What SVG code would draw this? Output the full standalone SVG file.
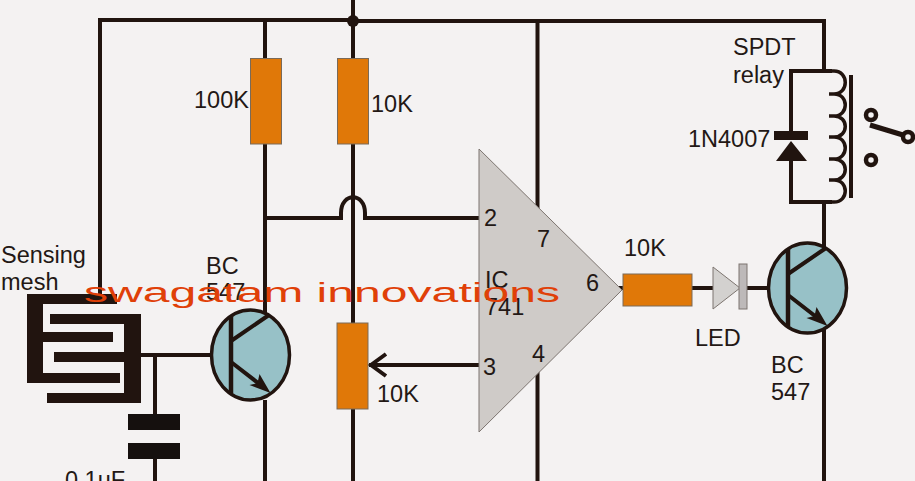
<svg xmlns="http://www.w3.org/2000/svg" width="915" height="481" viewBox="0 0 915 481">
<style>
.w{fill:none;stroke:#21140f;stroke-width:4}
.o{fill:#e07808;stroke:#7a6a58;stroke-width:1}
.q{fill:#97c1c7;stroke:#21140f;stroke-width:3.5}
.t{font-family:"Liberation Sans",Arial,sans-serif;font-size:23.500px;fill:#231815}
.k{fill:#21140f}
</style>
<defs>
<g id="bjt">
<ellipse class="q" cx="0" cy="0" rx="39" ry="45"/>
<path class="w" style="stroke-width:4.500" d="M-19.500-39V38"/>
<path class="w" d="M-19.500-14L18.500-40M-19.500 7L14 33"/>
<path class="k" d="M20 38L-1 30L7 28L9 19Z"/>
</g>
</defs>
<rect width="915" height="481" fill="#f4f2f2"/>
<g id="connectors">
<path class="w" d="M100 295V20H353"/>
<path class="w" d="M353 21H824V71"/>
<path class="w" d="M265 20V315M265 400V481"/>
<path class="w" d="M353 0V481"/>
<path class="w" d="M537.500 21V481"/>
<path class="w" d="M265 218H341V213C341 192 365 192 365 213V218H479"/>
<path class="w" d="M369 365H479M386 354L371 365L386 376"/>
<path class="w" d="M141 355H212M155 355V414M155 459V481"/>
<path class="w" d="M618 288H623M692 288H713M747 288H768"/>
<path class="w" d="M824 202V250M824 325V481"/>
<circle class="k" cx="353" cy="21" r="6"/>
</g>
<g id="r-100k"><rect class="o" x="250.500" y="58.500" width="31" height="85.500"/></g>
<g id="r-10k-top"><rect class="o" x="337.500" y="58.500" width="31" height="85.500"/></g>
<g id="pot"><rect class="o" x="337" y="323" width="31" height="86"/></g>
<g id="ic741"><path d="M479 149V432L622 290Z" fill="#cfcbc8" stroke="#7d7570" stroke-width="1"/>
<text class="t" x="484" y="226">2</text><text class="t" x="537" y="247">7</text><text class="t" x="586" y="291">6</text><text class="t" x="532" y="362">4</text><text class="t" x="483" y="375">3</text><text class="t" x="485" y="288">IC</text><text class="t" x="485" y="315">741</text></g>
<g id="r-10k-out"><rect class="o" x="623" y="274" width="69" height="32"/></g>
<g id="led"><path d="M713 267V309L740 288Z" fill="#d3d1cf" stroke="#7d7570"/><rect x="739" y="264" width="8" height="45" fill="#bdb9b9" stroke="#7d7570"/></g>
<g id="q1"><use href="#bjt" x="250.500" y="355"/></g>
<g id="q2"><use href="#bjt" x="807.500" y="288"/></g>
<g id="mesh"><path class="k" d="M27 294H117V304H43V332H113V342H43V373H120V383H27ZM50 314H141V403H47V393H124V362H54V352H124V324H50Z"/></g>
<g id="cap"><rect x="128" y="414" width="52" height="16" fill="#15100e"/><rect x="128" y="443" width="52" height="16" fill="#15100e"/></g>
<g id="relay">
<path class="w" d="M832 71H791V131M791 161V202H832"/>
<path class="k" d="M774 131H808V140H774ZM791 141L807 161H776Z"/>
<path class="w" style="stroke-width:3.500" d="M830 71H834C849 71 849 94 834 94H829M834 94C849 94 849 116 834 116H829M834 116C849 116 849 137 834 137H829M834 137C849 137 849 159 834 159H829M834 159C849 159 849 180 834 180H829M834 180C849 180 849 202 834 202H830"/>
<path class="w" d="M851 75V198"/>
<circle class="w" style="stroke-width:4.500" cx="871" cy="115" r="5"/><circle class="w" style="stroke-width:4.500" cx="871" cy="160" r="5"/><circle class="w" style="stroke-width:4.500" cx="908" cy="137" r="5"/>
<path class="w" style="stroke-width:5" d="M870 125L903 135"/>
</g>
<g id="labels">
<text class="t" x="1" y="263">Sensing</text><text class="t" x="1" y="290">mesh</text>
<text class="t" x="206" y="274">BC</text><text class="t" x="206" y="300">547</text>
<text class="t" x="194" y="108">100K</text><text class="t" x="371" y="112">10K</text><text class="t" x="377" y="402">10K</text>
<text class="t" x="624" y="256">10K</text><text class="t" x="695" y="346">LED</text>
<text class="t" x="771" y="373">BC</text><text class="t" x="771" y="400">547</text>
<text class="t" x="733" y="55">SPDT</text><text class="t" x="733" y="83">relay</text><text class="t" x="688" y="147">1N4007</text>
<text class="t" x="65" y="488">0.1uF</text>
</g>
<text id="watermark" x="84" y="302" font-family="Liberation Sans,Arial,sans-serif" font-size="27" fill="#e04008" textLength="476" lengthAdjust="spacingAndGlyphs">swagatam innovations</text>
</svg>
